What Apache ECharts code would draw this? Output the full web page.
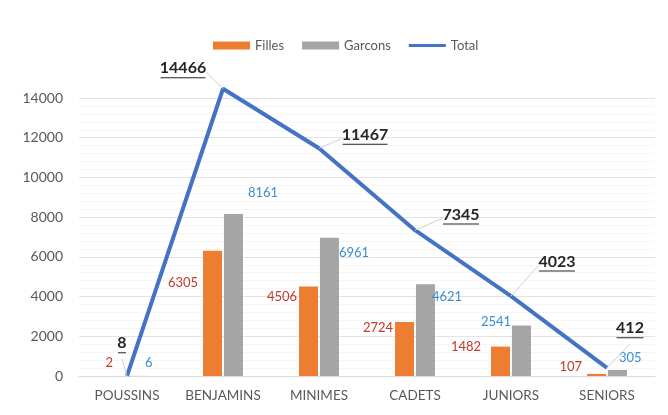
<!DOCTYPE html>
<html><head><meta charset="utf-8">
<script src="https://cdn.jsdelivr.net/npm/echarts@6/dist/echarts.min.js"></script>
<style>html,body{margin:0;padding:0;background:#fff}#c{width:668px;height:415px}</style>
</head><body><div id="c"></div>
<script>
const categories = ['POUSSINS','BENJAMINS','MINIMES','CADETS','JUNIORS','SENIORS'];
const filles = [2, 6305, 4506, 2724, 1482, 107];
const garcons = [6, 8161, 6961, 4621, 2541, 305];
const total = [8, 14466, 11467, 7345, 4023, 412];
const yTicks = [0, 2000, 4000, 6000, 8000, 10000, 12000, 14000];

// label nudges (style only)
const fillesShift = [[11,-13],[0,-31],[3,-34],[3,-21],[-5,-14],[0,-8]];
const garconsShift = [[-7,-13],[0,-102],[-5,-54],[-8,-33],[-55,-29],[-13,-15]];
const totalShift = [[-5,-17],[-40,-5],[46,2],[46,0],[46,-19],[23,-24]];

const FONT = 'Lato';
const TOTAL_SIZE = 16;

// underline bars sized to each total label's text width
const ctx = document.createElement('canvas').getContext('2d');
ctx.font = 'bold ' + TOTAL_SIZE + 'px ' + FONT;
const rich = {v: {color: '#262626', fontSize: TOTAL_SIZE, fontWeight: 'bold', fontFamily: FONT, lineHeight: 17}};
total.forEach((t, i) => {
  rich['u' + i] = {width: Math.round(ctx.measureText(String(t)).width) - 1, height: 1, lineHeight: 2,
                   backgroundColor: '#262626'};
});

const chart = echarts.init(document.getElementById('c'), null, {renderer:'canvas'});
chart.setOption({
  animation: false,
  textStyle: {fontFamily: FONT},
  legend: {
    top: 34, left: 208, itemWidth: 37, itemHeight: 8, itemGap: 18, symbolKeepAspect: true,
    textStyle: {color: '#595959', fontSize: 13, fontFamily: FONT},
    data: [{name:'Filles', icon:'rect'}, {name:'Garcons', icon:'rect'},
           {name:'Total', icon:'path://M0,0 H37 V3.2 H0 Z'}]
  },
  grid: {left: 79, right: 13, top: 98, bottom: 39, containLabel: false},
  xAxis: {
    type: 'category', data: categories,
    axisLine: {lineStyle: {color: '#d9d9d9'}},
    axisTick: {show: false},
    axisLabel: {color: '#595959', fontSize: 13.5, margin: 13, fontFamily: FONT, interval: 0, hideOverlap: false}
  },
  yAxis: {
    type: 'value', min: yTicks[0], max: yTicks[yTicks.length-1], interval: 2000,
    axisLine: {show: false}, axisTick: {show: false},
    axisLabel: {color: '#595959', fontSize: 14, margin: 16, fontFamily: FONT, formatter: v => String(v)},
    splitLine: {lineStyle: {color: '#e3e3e3'}},
    minorTick: {show: false, splitNumber: 5},
    minorSplitLine: {show: true, lineStyle: {color: '#f6f6f6'}}
  },
  series: [
    {
      name: 'Filles', type: 'bar', data: filles, barWidth: 19, barGap: '10%',
      itemStyle: {color: '#ED7D31'},
      label: {show: true, position: 'left', color: '#C0392B', fontSize: 13, fontFamily: FONT},
      labelLayout: p => ({dx: fillesShift[p.dataIndex][0], dy: fillesShift[p.dataIndex][1]})
    },
    {
      name: 'Garcons', type: 'bar', data: garcons, barWidth: 19,
      itemStyle: {color: '#A5A5A5'},
      label: {show: true, position: 'right', color: '#3A8DD0', fontSize: 13, fontFamily: FONT},
      labelLayout: p => ({dx: garconsShift[p.dataIndex][0], dy: garconsShift[p.dataIndex][1]})
    },
    {
      name: 'Total', type: 'line', data: total, clip: false,
      symbol: 'circle', symbolSize: 0.1, showSymbol: true, z: 5,
      lineStyle: {color: '#4472C4', width: 4},
      itemStyle: {color: '#4472C4'},
      label: {show: true, position: 'top', rich: rich,
              formatter: p => '{v|' + p.value + '}\n{u' + p.dataIndex + '|}'},
      labelLine: {show: true, lineStyle: {color: '#cfcfcf', width: 1}},
      labelLayout: p => ({dx: totalShift[p.dataIndex][0], dy: totalShift[p.dataIndex][1]})
    }
  ]
});
</script></body></html>
